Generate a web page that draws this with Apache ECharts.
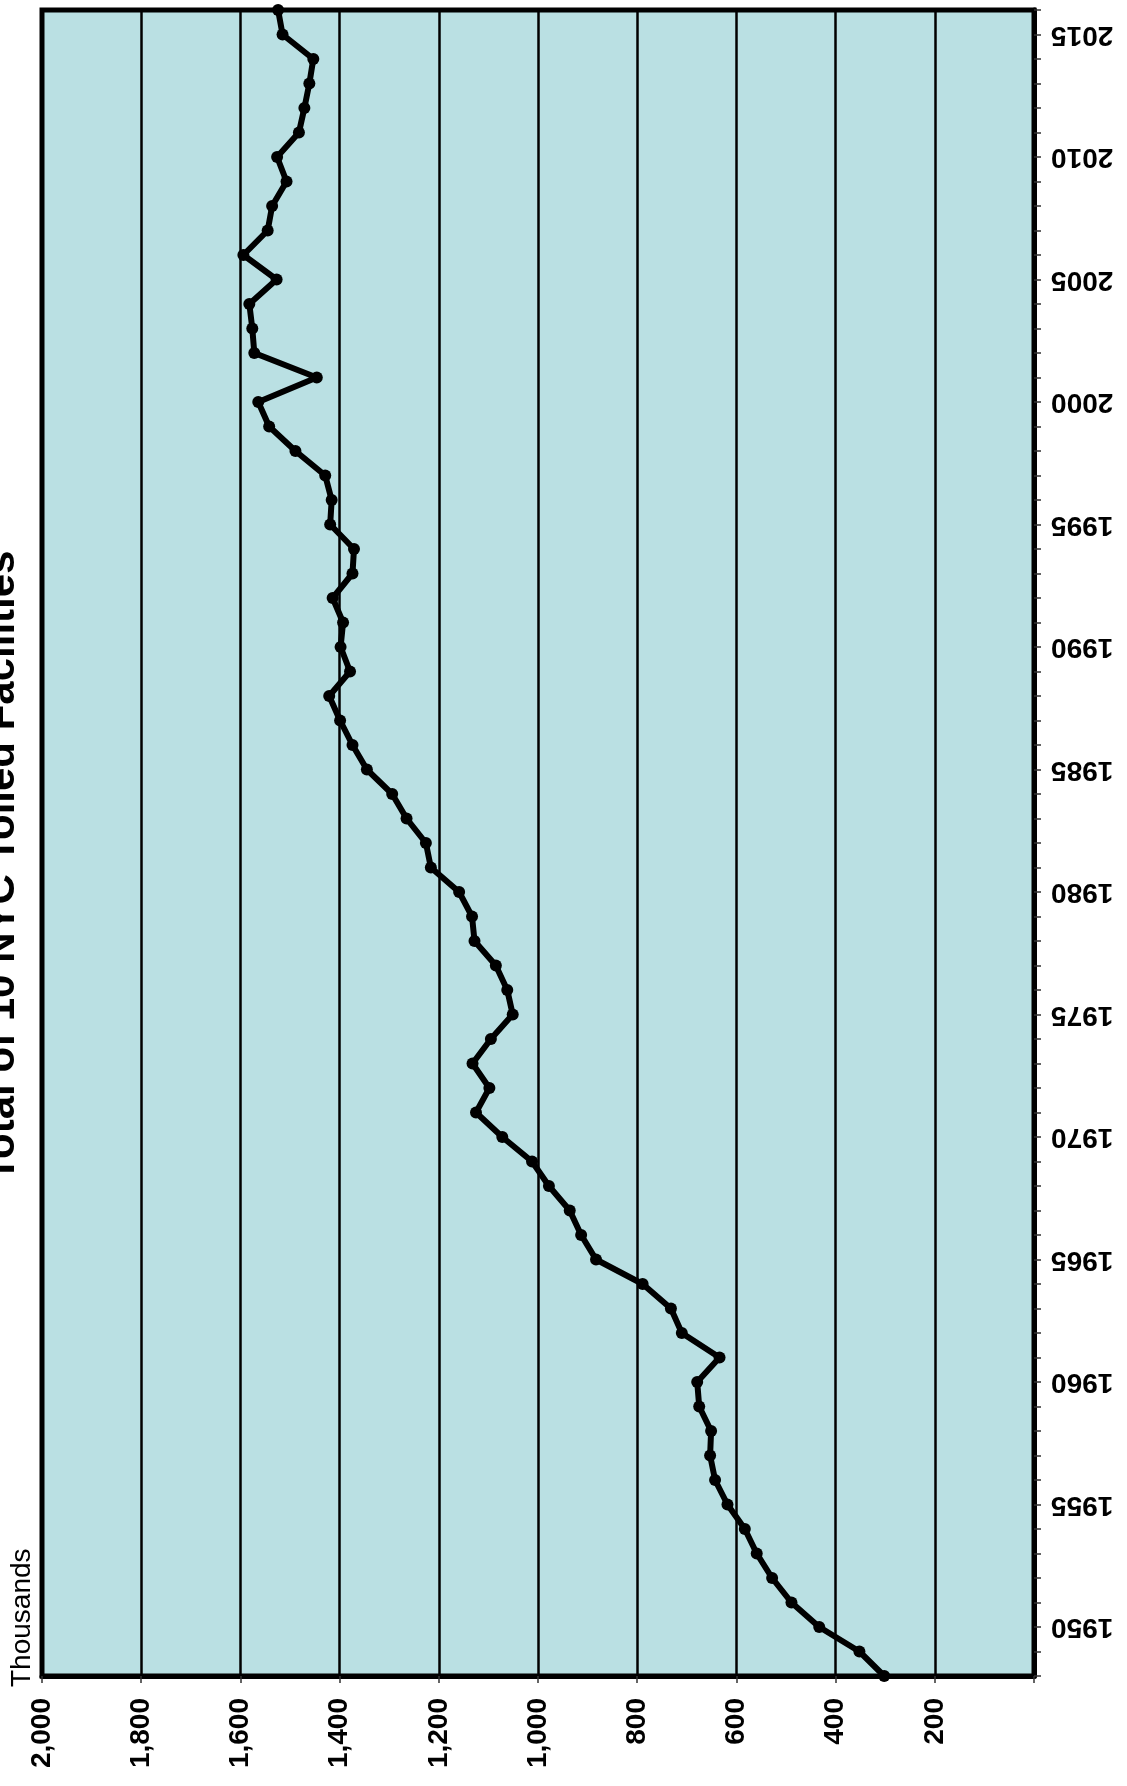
<!DOCTYPE html>
<html>
<head>
<meta charset="utf-8">
<script src="https://cdn.jsdelivr.net/npm/echarts@6/dist/echarts.min.js"></script>
<style>
html,body{margin:0;padding:0;background:#fff;}
#chart{width:1127px;height:1786px;}
</style>
</head>
<body>
<div id="chart"></div>
<script>
const years = [1948,1949,1950,1951,1952,1953,1954,1955,1956,1957,1958,1959,1960,1961,1962,1963,1964,1965,1966,1967,1968,1969,1970,1971,1972,1973,1974,1975,1976,1977,1978,1979,1980,1981,1982,1983,1984,1985,1986,1987,1988,1989,1990,1991,1992,1993,1994,1995,1996,1997,1998,1999,2000,2001,2002,2003,2004,2005,2006,2007,2008,2009,2010,2011,2012,2013,2014,2015,2016];
const traffic = [302,352,433,489,528,559,583,618,643,653,651,675,679,634,710,732,789,883,913,936,978,1012,1072,1125,1098,1132,1095,1051,1062,1085,1128,1133,1159,1216,1226,1265,1294,1345,1374,1399,1421,1379,1398,1393,1414,1374,1371,1419,1416,1429,1489,1542,1564,1446,1572,1576,1582,1527,1594,1545,1536,1507,1526,1482,1471,1461,1453,1515,1524];
const titleText = 'Total of 10 NYC Tolled Facilities';
const unitText = 'Thousands';

const chart = echarts.init(document.getElementById('chart'), null, {renderer:'canvas'});
const FONT = 'Liberation Sans, Arial, sans-serif';
chart.setOption({
  backgroundColor: '#ffffff',
  animation: false,
  grid: {
    left: 42, right: 93, top: 10, bottom: 110,
    show: true, backgroundColor: '#BAE0E3', borderColor: '#000', borderWidth: 5, z: 0
  },
  graphic: [
    {
      type: 'text', x: 2, y: 866, rotation: Math.PI/2,
      style: { text: titleText, font: 'bold 42px ' + FONT, fill: '#000', align: 'center', verticalAlign: 'middle' }
    },
    {
      type: 'text', x: 22, y: 1687, rotation: Math.PI/2,
      style: { text: unitText, font: '28px ' + FONT, fill: '#000', align: 'left', verticalAlign: 'middle' }
    }
  ],
  xAxis: {
    type: 'value', inverse: true, min: 0, max: 2000, interval: 200, position: 'bottom',
    axisLine: { show: true, lineStyle: { color: '#000', width: 5 } },
    axisTick: { show: true, inside: false, length: 7, lineStyle: { color: '#333', width: 1.5 } },
    splitLine: { show: true, lineStyle: { color: '#000', width: 2.5 } },
    axisLabel: {
      rotate: 90, margin: 22, color: '#000', fontSize: 28, fontWeight: 'bold', fontFamily: FONT,
      formatter: v => v === 0 ? '' : v.toLocaleString('en-US')
    }
  },
  yAxis: {
    type: 'value', min: 1948, max: 2016, interval: 1, position: 'right',
    axisLine: { show: true, lineStyle: { color: '#000', width: 5 } },
    axisTick: { show: true, inside: false, length: 7, lineStyle: { color: '#333', width: 1.5 } },
    splitLine: { show: false },
    axisLabel: {
      rotate: 180, margin: 17, color: '#000', fontSize: 28, fontWeight: 'bold', fontFamily: FONT,
      formatter: v => (v % 5 === 0 ? String(v) : '')
    }
  },
  series: [{
    type: 'line',
    data: years.map((y, i) => [traffic[i], y]),
    lineStyle: { color: '#000', width: 6 },
    itemStyle: { color: '#000' },
    symbol: 'circle', symbolSize: 12,
    clip: false, z: 5
  }]
});
</script>
</body>
</html>
